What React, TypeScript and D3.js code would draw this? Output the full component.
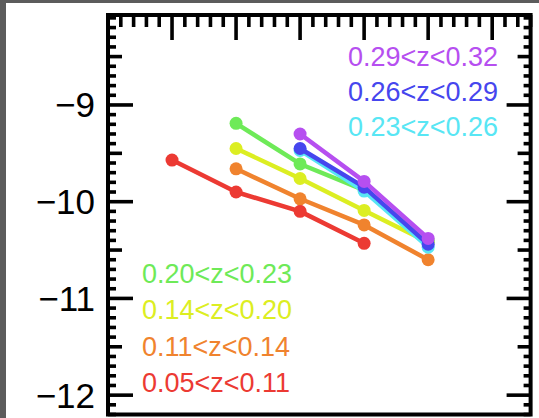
import React, { useEffect, useRef } from 'react';
import * as d3 from 'd3';

// x positions of the bins (log mass), shared by every series
const massBins = [9.0, 9.5, 10.0, 10.5, 11.0];

const zLabels = [
  '0.05<z<0.11',
  '0.11<z<0.14',
  '0.14<z<0.20',
  '0.20<z<0.23',
  '0.23<z<0.26',
  '0.26<z<0.29',
  '0.29<z<0.32',
];

const zColors = ['#ec3a33', '#f0832e', '#dcee22', '#6eea58', '#58e6f4', '#4646ee', '#b64ff0'];

// values per series, null where the bin has no point
const red = [-9.57, -9.9, -10.1, -10.43, null];
const orange = [null, -9.66, -9.97, -10.24, -10.6];
const yellow = [null, -9.45, -9.76, -10.09, -10.42];
const green = [null, -9.19, -9.61, -9.88, -10.4];
const cyan = [null, null, -9.47, -9.89, -10.47];
const blue = [null, null, -9.45, -9.85, -10.44];
const purple = [null, null, -9.3, -9.79, -10.38];

const seriesValues = [red, orange, yellow, green, cyan, blue, purple];

const yTicks = [-12, -11, -10, -9];

export default function App() {
  const svgRef = useRef<SVGSVGElement>(null);
  const W = 539;
  const H = 418;

  useEffect(() => {
    const svg = d3.select(svgRef.current);
    svg.selectAll('*').remove();

    const x = d3.scaleLinear().domain([8.5, 11.8]).range([108, 530.6]);
    const y = d3.scaleLinear().domain([-12.2, -8.07]).range([414.5, 15]);

    svg.append('rect').attr('width', W).attr('height', H).attr('fill', '#fff');
    // grey frame of the screenshot
    svg.append('rect').attr('x', 0).attr('y', 0).attr('width', 6).attr('height', H).attr('fill', '#5c5c5c');
    svg.append('rect').attr('x', 0).attr('y', 0).attr('width', W).attr('height', 3).attr('fill', '#5c5c5c');

    const [x0, x1] = x.range();
    const [yb, yt] = y.range();
    const g = svg.append('g').attr('stroke', '#000').attr('stroke-width', 3.6);

    // left + right ticks
    d3.range(-122, -80).forEach(k => {
      const v = k / 10;
      if (v < -12.2 || v > -8.07) return;
      const isMajor = k % 10 === 0;
      const isMid = !isMajor && k % 5 === 0;
      const lenL = isMajor ? 25 : isMid ? 14 : 8;
      const lenR = isMajor ? 24 : isMid ? 13 : 7;
      g.append('line').attr('x1', x0).attr('x2', x0 + lenL).attr('y1', y(v)).attr('y2', y(v));
      g.append('line').attr('x1', x1).attr('x2', x1 - lenR).attr('y1', y(v)).attr('y2', y(v));
    });

    // top ticks
    d3.range(85, 119).forEach(k => {
      const v = k / 10;
      const isMajor = k % 5 === 0;
      const len = isMajor ? 25 : 12;
      g.append('line').attr('x1', x(v)).attr('x2', x(v)).attr('y1', yt).attr('y2', yt + len);
    });

    // box
    g.append('rect')
      .attr('x', x0).attr('y', yt)
      .attr('width', x1 - x0).attr('height', yb - yt)
      .attr('fill', 'none').attr('stroke-width', 4);

    // y labels
    svg.append('g')
      .selectAll('text')
      .data(yTicks)
      .join('text')
      .attr('x', 95)
      .attr('y', d => y(d) + 12.5)
      .attr('text-anchor', 'end')
      .attr('font-family', 'Liberation Sans, Arial, sans-serif')
      .attr('font-size', 35)
      .attr('fill', '#000')
      .text(d => '\u2212' + Math.abs(d));

    // series
    const line = d3.line<[number, number | null]>()
      .defined(d => d[1] !== null)
      .x(d => x(d[0]))
      .y(d => y(d[1] as number));

    seriesValues.forEach((vals, i) => {
      const pts: [number, number | null][] = massBins.map((m, j) => [m, vals[j]]);
      const sg = svg.append('g');
      sg.append('path')
        .attr('d', line(pts))
        .attr('fill', 'none')
        .attr('stroke', zColors[i])
        .attr('stroke-width', 4.5)
        .attr('stroke-linejoin', 'round');
      sg.selectAll('circle')
        .data(pts.filter(p => p[1] !== null))
        .join('circle')
        .attr('cx', d => x(d[0]))
        .attr('cy', d => y(d[1] as number))
        .attr('r', 6.5)
        .attr('fill', zColors[i]);
    });

    // legends
    const fs = 27;
    const lowIdx = [3, 2, 1, 0];
    lowIdx.forEach((idx, k) => {
      svg.append('text')
        .attr('x', 142)
        .attr('y', 283 + k * 36.3)
        .attr('font-family', 'Liberation Sans, Arial, sans-serif')
        .attr('font-size', fs)
        .attr('fill', zColors[idx])
        .text(zLabels[idx]);
    });
    const highIdx = [6, 5, 4];
    highIdx.forEach((idx, k) => {
      svg.append('text')
        .attr('x', 348)
        .attr('y', 66 + k * 35)
        .attr('font-family', 'Liberation Sans, Arial, sans-serif')
        .attr('font-size', fs)
        .attr('fill', zColors[idx])
        .text(zLabels[idx]);
    });
  }, []);

  return (
    <svg
      ref={svgRef}
      width={W}
      height={H}
      style={{ position: 'absolute', left: 0, top: 0 }}
    />
  );
}
